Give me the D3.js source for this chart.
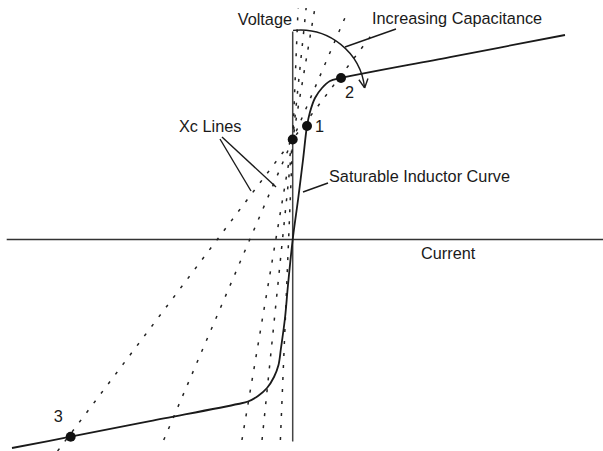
<!DOCTYPE html>
<html>
<head>
<meta charset="utf-8">
<script src="https://cdn.jsdelivr.net/npm/d3@7"></script>
<style>
  html, body { margin: 0; padding: 0; background: #fff; }
  svg { display: block; }
  text { font-family: "Liberation Sans", Arial, Helvetica, sans-serif; font-size: 16.3px; fill: #1a1a1a; }
</style>
</head>
<body>
<div id="chart"></div>
<script>
// ---- Data (current I on x, voltage V on y; arbitrary units) ----
// Saturable inductor curve
const curveI = [-28.07, -22.2, -14.27, -5.47, -4.47, -3.47, -2.57, -1.87, -1.42, -1.17, -0.77, -0.47, 0,
                0.53, 1.03, 1.43, 1.73, 2.23, 2.93, 3.73, 4.83, 15.73, 27.23];
const curveV = [-20.85, -19.72, -18.16, -16.45, -16.2, -15.65, -14.85, -13.75, -12.55, -10.85, -7.85, -4.55, 0,
                3.95, 7.95, 11.35, 12.75, 14.15, 15.15, 15.85, 16.15, 18.24, 20.45];
// Xc lines: all pass through the source-voltage point E on the V axis
const sourceE = 10.0;
const xcSlopes = [1.325, 2.33, 5.92, 9.8, 24.4];
const xcVmin = [-21.15, -20.05, -20.05, -20.05, -20.05];
const xcVmax = [20.45, 22.15, 23.15, 23.15, 23.15];
// Operating points
const pointLabels = ["1", "2", "3", "E"];
const pointI = [1.43, 4.83, -22.2, 0];
const pointV = [11.35, 16.15, -19.72, 10.0];
// Axis extents
const axisIRange = [-28.6, 31.03];
const axisVRange = [-20.2, 20.8];
// Text labels
const labels = ["Voltage", "Increasing Capacitance", "Xc Lines", "Saturable Inductor Curve", "Current"];

// ---- Setup ----
const W = 603, H = 451;
const svg = d3.select("#chart").append("svg").attr("width", W).attr("height", H);

const x = d3.scaleLinear().domain([-29, 31]).range([2.7, 602.7]);
const y = d3.scaleLinear().domain([-21, 24]).range([449.5, -0.5]);
const ink = "#1a1a1a";

// Axes
svg.append("line")
  .attr("x1", x(axisIRange[0])).attr("x2", x(axisIRange[1]))
  .attr("y1", y(0)).attr("y2", y(0))
  .attr("stroke", "#333").attr("stroke-width", 1.6);
svg.append("line")
  .attr("x1", x(0)).attr("x2", x(0))
  .attr("y1", y(axisVRange[0])).attr("y2", y(axisVRange[1]))
  .attr("stroke", "#444").attr("stroke-width", 1.5);

// Xc lines (dotted)
xcSlopes.forEach((m, i) => {
  const v0 = xcVmin[i], v1 = xcVmax[i];
  svg.append("line")
    .attr("x1", x((v0 - sourceE) / m)).attr("y1", y(v0))
    .attr("x2", x((v1 - sourceE) / m)).attr("y2", y(v1))
    .attr("stroke", "#222").attr("stroke-width", 1.5)
    .attr("stroke-dasharray", "3,9");
});

// Saturable inductor curve
const pts = curveI.map((d, i) => [d, curveV[i]]);
svg.append("path")
  .datum(pts)
  .attr("d", d3.line().x(d => x(d[0])).y(d => y(d[1])).curve(d3.curveCatmullRom.alpha(0.5)))
  .attr("fill", "none").attr("stroke", ink).attr("stroke-width", 1.8);

// Increasing-capacitance arc with arrow
const cx = x(0.73), cy = y(14.45), r = 65;
const a0 = Math.atan2(-65, -7), a1 = Math.atan2(-7, 64);
const arcPath = d3.path();
arcPath.arc(cx, cy, r, a0, a1, false);
svg.append("path").attr("d", arcPath.toString())
  .attr("fill", "none").attr("stroke", ink).attr("stroke-width", 1.4);
const tipX = cx + r * Math.cos(a1), tipY = cy + r * Math.sin(a1);
const dir = a1 + Math.PI / 2; // tangent direction at end (clockwise)
const armLen = 10;
[dir + Math.PI - 0.5, dir + Math.PI + 0.45].forEach(a => {
  svg.append("line")
    .attr("x1", tipX).attr("y1", tipY)
    .attr("x2", tipX + armLen * Math.cos(a)).attr("y2", tipY + armLen * Math.sin(a))
    .attr("stroke", ink).attr("stroke-width", 1.4);
});

// Points
pointI.forEach((d, i) => {
  svg.append("circle").attr("cx", x(d)).attr("cy", y(pointV[i])).attr("r", 5).attr("fill", "#111");
});

// Point number labels
const numOffsets = [[8, 6], [4, 20], [-17, -15]];
[0, 1, 2].forEach(i => {
  svg.append("text")
    .attr("x", x(pointI[i]) + numOffsets[i][0])
    .attr("y", y(pointV[i]) + numOffsets[i][1])
    .text(pointLabels[i]);
});

// Text labels
svg.append("text").attr("x", 292).attr("y", 25).attr("text-anchor", "end").text(labels[0]);
svg.append("text").attr("x", 372).attr("y", 24).text(labels[1]);
svg.append("text").attr("x", 179).attr("y", 132).text(labels[2]);
svg.append("text").attr("x", 329).attr("y", 182).text(labels[3]);
svg.append("text").attr("x", 421).attr("y", 259).text(labels[4]);

// Leader lines
const leaders = [
  [396, 29, 345, 47],
  [220, 139, 251, 191],
  [222, 137, 276, 187],
  [328, 183, 303, 192]
];
leaders.forEach(l => {
  svg.append("line").attr("x1", l[0]).attr("y1", l[1]).attr("x2", l[2]).attr("y2", l[3])
    .attr("stroke", ink).attr("stroke-width", 1.4);
});
</script>
</body>
</html>
